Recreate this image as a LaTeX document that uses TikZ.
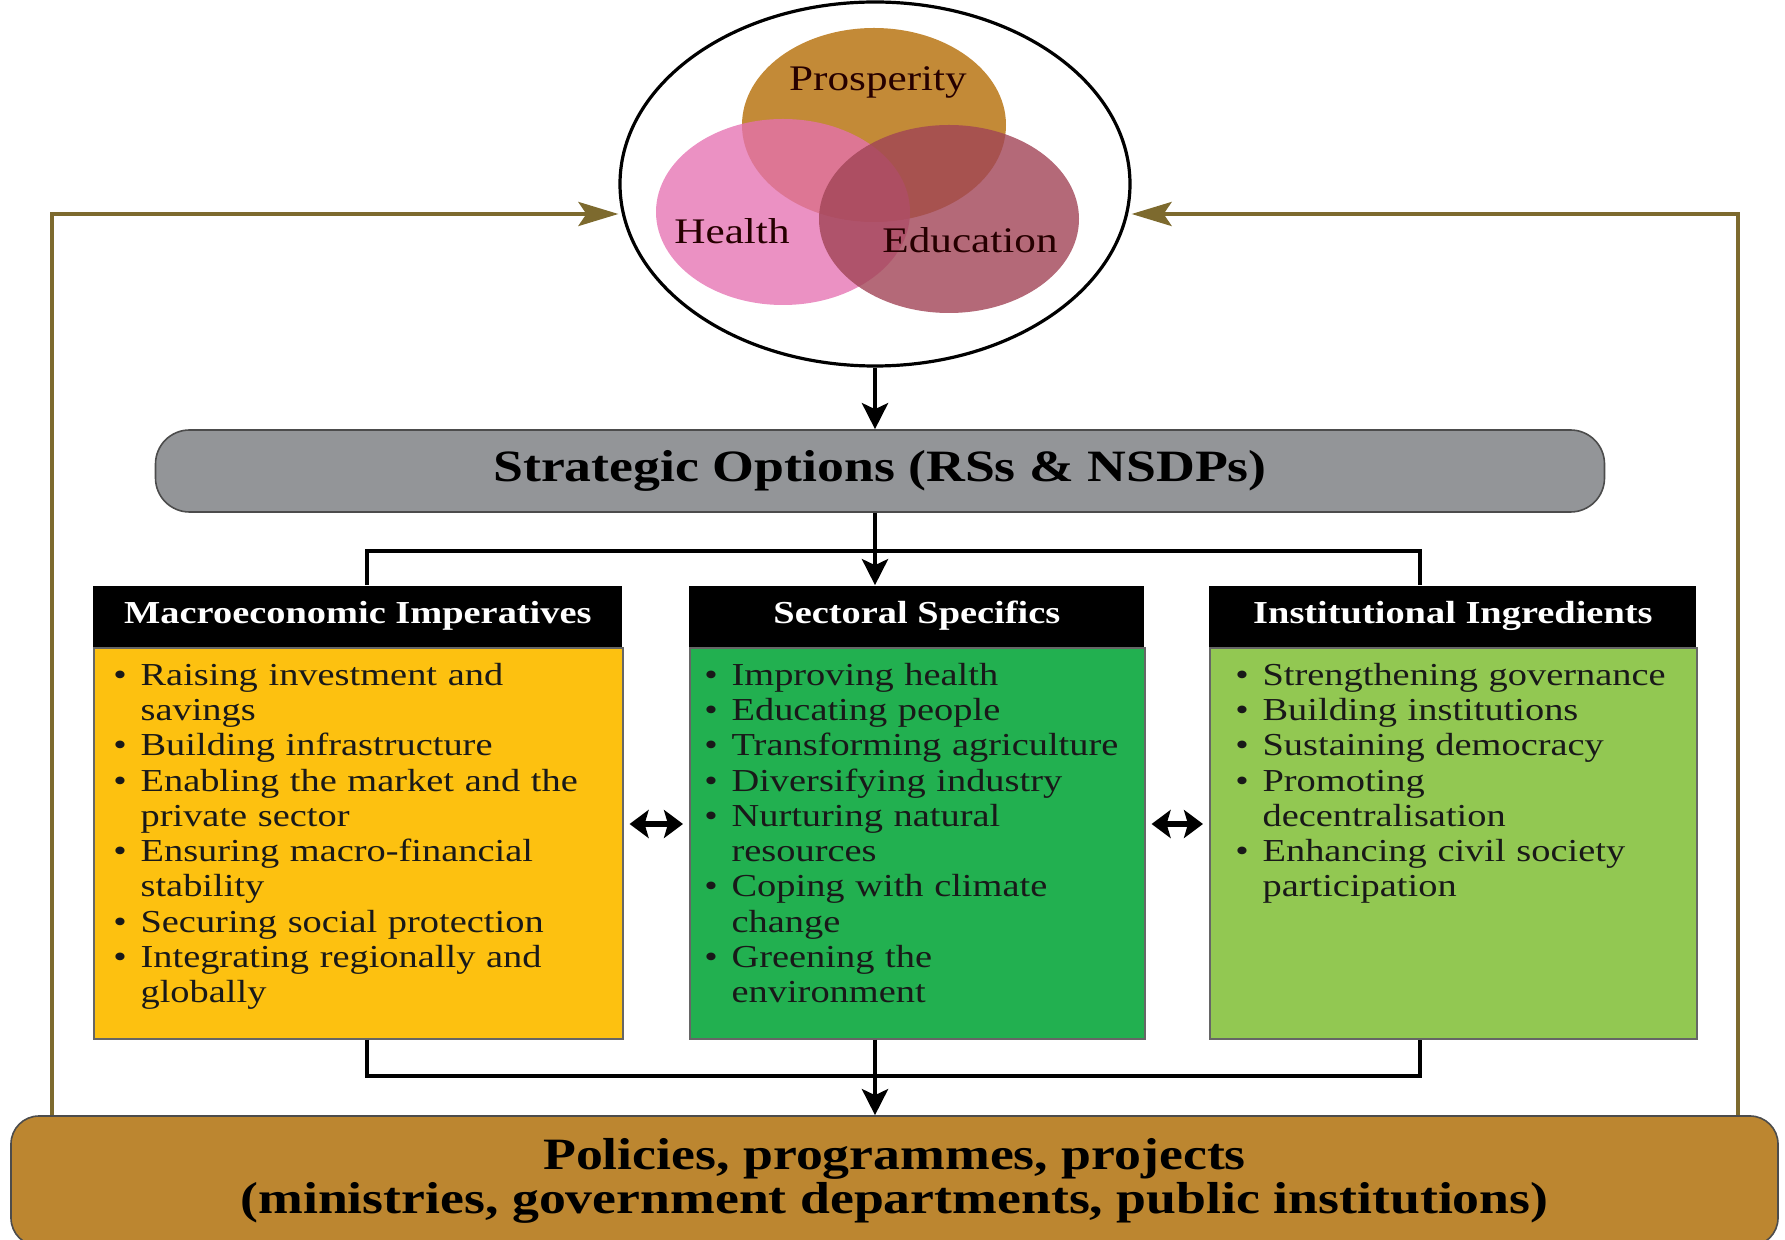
\documentclass[tikz,border=0pt]{standalone}
\usepackage{fontspec}
\setmainfont[FakeStretch=1.2]{Liberation Serif}
\usetikzlibrary{shapes.geometric,arrows.meta,positioning}

\definecolor{prosgold}{RGB}{195,138,55}
\definecolor{healpink}{RGB}{229,112,177}
\definecolor{educmauve}{RGB}{161,68,86}
\definecolor{stratgray}{RGB}{147,149,152}
\definecolor{macroyellow}{RGB}{253,193,16}
\definecolor{sectgreen}{RGB}{34,176,80}
\definecolor{instgreen}{RGB}{146,200,82}
\definecolor{policybrown}{RGB}{188,134,48}
\definecolor{loopolive}{RGB}{125,106,46}

% bullet line with hanging indent
\newcommand{\bitem}[1]{\hangindent=0.85em\hangafter=1\noindent\hbox to 0.85em{\textbullet\hfil}#1\par}

\tikzset{
  venn/.style={ellipse, inner sep=0pt},
  vennlabel/.style={font=\fontsize{18}{20}\selectfont, text=black!85!red},
  colbox/.style={draw=black!60, line width=0.8pt, anchor=north west, minimum height=195.5pt},
  colhead/.style={fill=black, text=white, anchor=south west, minimum height=30.5pt, inner sep=0pt, font=\bfseries\fontsize{16}{18}\selectfont},
  colitems/.style={anchor=north west, text width=250pt, align=left, inner sep=0pt, font=\fontsize{16}{17.65}\selectfont, text=black!90},
  wide/.style={draw=black!70, line width=0.8pt, align=center, font=\bfseries\fontsize{22.4}{22}\selectfont},
  link/.style={line width=2.4pt},
  arr/.style={link, -{Stealth[length=13pt,width=13pt,inset=3pt]}},
  both/.style={line width=3pt, {Stealth[length=9.5pt,width=14pt,inset=2pt]}-{Stealth[length=9.5pt,width=14pt,inset=2pt]}},
  feedback/.style={draw=loopolive, line width=2pt, -{Stealth[length=20pt,width=12pt,inset=4pt]}}
}

\begin{document}
\begin{tikzpicture}[x=0.5pt,y=0.5pt,yscale=-1]
\clip (0,0) rectangle (1785,1240);

% goals
\node[draw, line width=1.6pt, ellipse, minimum width=255pt, minimum height=182pt] (goals) at (875,184) {};
\node[venn, fill=prosgold, minimum width=132pt, minimum height=97pt] (pros) at (874,125) {};
\node[venn, fill=healpink, fill opacity=0.77, minimum width=127pt, minimum height=93pt] (heal) at (783,212) {};
\node[venn, fill=educmauve, fill opacity=0.8, minimum width=130pt, minimum height=94pt] (educ) at (949,219) {};
\node[vennlabel] (prosL) at (878,82) {Prosperity};
\node[vennlabel] (healL) at (732,231) {Health};
\node[vennlabel] (educL) at (970,240) {Education};

% strategic options
\node[wide, rounded corners=17pt, fill=stratgray, minimum width=724.5pt, minimum height=41pt] (strat) at (880,471) {Strategic Options (RSs \& NSDPs)};

% the three columns
\node[colbox, fill=macroyellow, minimum width=264.5pt] (macro) at (93,647) {};
\node[colhead, minimum width=264.5pt] (macroH) at (macro.north west) {Macroeconomic Imperatives};
\node[colitems] (macroL) at ([xshift=10pt,yshift=7.8pt]macro.north west) {%
  \bitem{Raising investment and\newline savings}
  \bitem{Building infrastructure}
  \bitem{Enabling the market and the\newline private sector}
  \bitem{Ensuring macro-financial\newline stability}
  \bitem{Securing social protection}
  \bitem{Integrating regionally and\newline globally}};

\node[colbox, fill=sectgreen, minimum width=227.5pt] (sect) at (689,647) {};
\node[colhead, minimum width=227.5pt] (sectH) at (sect.north west) {Sectoral Specifics};
\node[colitems] (sectL) at ([xshift=7.5pt,yshift=7.8pt]sect.north west) {%
  \bitem{Improving health}
  \bitem{Educating people}
  \bitem{Transforming agriculture}
  \bitem{Diversifying industry}
  \bitem{Nurturing natural\newline resources}
  \bitem{Coping with climate\newline change}
  \bitem{Greening the\newline environment}};

\node[colbox, fill=instgreen, minimum width=243.5pt] (inst) at (1209,647) {};
\node[colhead, minimum width=243.5pt] (instH) at (inst.north west) {Institutional Ingredients};
\node[colitems] (instL) at ([xshift=13pt,yshift=7.8pt]inst.north west) {%
  \bitem{Strengthening governance}
  \bitem{Building institutions}
  \bitem{Sustaining democracy}
  \bitem{Promoting\newline decentralisation}
  \bitem{Enhancing civil society\newline participation}};

% policies
\node[wide, rounded corners=14pt, fill=policybrown, minimum width=883.5pt, minimum height=65pt, inner sep=0pt] (policy) at (894.5,1181)
  {Policies, programmes, projects\\(ministries, government departments, public institutions)};

% connectors
\coordinate (splitL) at (367,551);
\coordinate (splitR) at (1420,551);
\coordinate (joinL) at (367,1076);
\coordinate (joinR) at (1420,1076);
\coordinate (midrow) at (0,824);
\coordinate (loopL) at (52,214);
\coordinate (loopR) at (1738,214);

\draw[arr] (goals.south) -- (goals.south |- strat.north);
\draw[link] (splitL |- macroH.north) -- (splitL) -- (splitR) -- (splitR |- instH.north);
\draw[arr] (goals.south |- strat.south) -- (goals.south |- sectH.north);

\draw[link] (joinL |- macro.south) -- (joinL) -- (joinR) -- (joinR |- inst.south);
\draw[arr] (goals.south |- sect.south) -- (goals.south |- policy.north);

\draw[both] ([xshift=3pt]macro.east |- midrow) -- ([xshift=-3pt]sect.west |- midrow);
\draw[both] ([xshift=3pt]sect.east |- midrow) -- ([xshift=-3pt]inst.west |- midrow);

% feedback loop
\draw[feedback] (loopL |- policy.north) -- (loopL) -- (goals.west |- loopL);
\draw[feedback] (loopR |- policy.north) -- (loopR) -- (goals.east |- loopR);
\end{tikzpicture}
\end{document}
